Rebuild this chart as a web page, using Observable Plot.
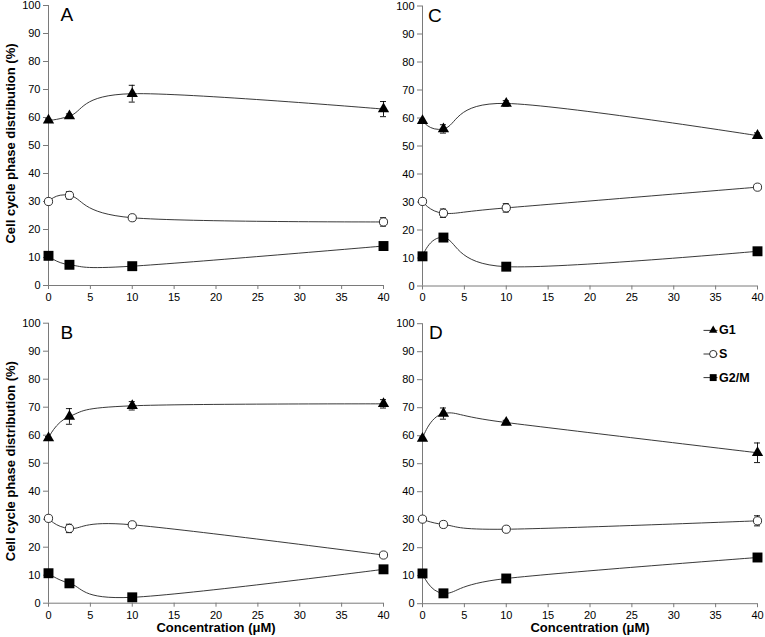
<!DOCTYPE html>
<html><head><meta charset="utf-8">
<script src="https://cdn.jsdelivr.net/npm/d3@7"></script>
<script src="https://cdn.jsdelivr.net/npm/@observablehq/plot@0.6"></script>
<style>
body{margin:0;background:#fff;}
#chart{position:relative;width:765px;height:637px;overflow:hidden;background:#fff;}
#chart > svg{position:absolute;}
</style></head><body><div id="chart"></div>
<script>
// ---- data ----
const concentrations = [0, 2.5, 10, 40];
const phases = ["G1", "S", "G2/M"];
const xTicks = [0, 5, 10, 15, 20, 25, 30, 35, 40];
const yTicks = [0, 10, 20, 30, 40, 50, 60, 70, 80, 90, 100];
const panelLetters = ["A", "B", "C", "D"];
const yTitle = "Cell cycle phase distribution (%)";
const xTitle = "Concentration (μM)";

const A_G1 = [59, 60.5, 68.5, 63];      const A_G1_err = [0.5, 0.8, 3, 2.7];
const A_S = [30, 32.2, 24.2, 22.7];     const A_S_err = [0.3, 1.3, 0.4, 1.5];
const A_G2M = [10.6, 7.4, 6.9, 14.1];   const A_G2M_err = [0.5, 0.5, 0.5, 0.5];

const B_G1 = [59, 66.7, 70.5, 71.2];    const B_G1_err = [0.5, 2.8, 1.5, 1.5];
const B_S = [30.3, 26.7, 28, 17.2];     const B_S_err = [0.5, 1.5, 0.5, 0.5];
const B_G2M = [10.7, 7.1, 2.1, 12.1];   const B_G2M_err = [0.5, 0.5, 0.5, 0.5];

const C_G1 = [59, 56.1, 65.2, 53.7];    const C_G1_err = [0.5, 1.5, 1, 1];
const C_S = [30.2, 26, 27.9, 35.3];     const C_S_err = [0.3, 1.5, 1.5, 0.5];
const C_G2M = [10.6, 17.3, 6.9, 12.4];  const C_G2M_err = [0.5, 0.5, 0.5, 0.5];

const D_G1 = [59, 67.9, 64.7, 53.9];    const D_G1_err = [0.5, 2, 0.8, 3.5];
const D_S = [30.2, 28.3, 26.6, 29.6];   const D_S_err = [0.5, 1, 0.5, 1.8];
const D_G2M = [10.8, 3.7, 9, 16.5];     const D_G2M_err = [0.5, 0.5, 0.5, 0.5];

// ---- build tables ----
function table(series) {
  const rows = [];
  series.forEach(([phase, vals, errs]) => {
    vals.forEach((v, i) => rows.push({phase, x: concentrations[i], y: v, err: errs[i]}));
  });
  return rows;
}
const panels = {
  A: table([["G1", A_G1, A_G1_err], ["S", A_S, A_S_err], ["G2/M", A_G2M, A_G2M_err]]),
  B: table([["G1", B_G1, B_G1_err], ["S", B_S, B_S_err], ["G2/M", B_G2M, B_G2M_err]]),
  C: table([["G1", C_G1, C_G1_err], ["S", C_S, C_S_err], ["G2/M", C_G2M, C_G2M_err]]),
  D: table([["G1", D_G1, D_G1_err], ["S", D_S, D_S_err], ["G2/M", D_G2M, D_G2M_err]])
};

const axisColor = "#7a7a7a";
const markerStyle = {
  "G1": {symbol: "triangle", fill: "black", stroke: "none"},
  "S": {symbol: "circle", fill: "white", stroke: "black", strokeWidth: 0.8},
  "G2/M": {symbol: "square", fill: "black", stroke: "none"}
};
const markerR = {"G1": 4.2, "S": 4.1, "G2/M": 5.6};
const legendR = {"G1": 3.1, "S": 3.6, "G2/M": 3.9};
const lineSymbol = {draw(ctx) { ctx.moveTo(-7, 0); ctx.lineTo(7, 0); }};

function makePanel(letter, layout) {
  const data = panels[letter];
  const capHalf = 0.36;
  const marks = [
    Plot.ruleY([0], {stroke: axisColor}),
    Plot.ruleX([0], {stroke: axisColor}),
    Plot.axisY({ticks: yTicks, tickSize: 5, tickPadding: 3, stroke: axisColor, label: null}),
    Plot.axisX({ticks: xTicks, tickSize: 4, tickPadding: 3.5, stroke: axisColor, label: null}),
    Plot.line(data, {x: "x", y: "y", z: "phase", curve: "cardinal", stroke: "#222", strokeWidth: 0.9}),
    Plot.ruleX(data, {x: "x", y1: d => d.y - d.err, y2: d => d.y + d.err, stroke: "black", strokeWidth: 0.9}),
    Plot.ruleY(data, {y: d => d.y + d.err, x1: d => d.x - capHalf, x2: d => d.x + capHalf, stroke: "black", strokeWidth: 0.9}),
    Plot.ruleY(data, {y: d => d.y - d.err, x1: d => d.x - capHalf, x2: d => d.x + capHalf, stroke: "black", strokeWidth: 0.9})
  ];
  phases.forEach(p => {
    marks.push(Plot.dot(data.filter(d => d.phase === p), {x: "x", y: "y", r: markerR[p], ...markerStyle[p]}));
  });
  marks.push(Plot.text([letter], {frameAnchor: "top-left", dx: layout.letterDx, dy: 2, lineAnchor: "top", textAnchor: "start", fontSize: 19}));
  if (layout.yTitle) {
    marks.push(Plot.text([yTitle], {frameAnchor: "left", textAnchor: "middle", lineAnchor: "middle", rotate: -90, dx: -38, dy: -2, fontWeight: "bold", fontSize: 13}));
  }
  if (layout.xTitle) {
    marks.push(Plot.text([xTitle], {frameAnchor: "bottom", textAnchor: "middle", lineAnchor: "middle", dy: 24.5, fontWeight: "bold", fontSize: 13}));
  }
  if (layout.legend) {
    phases.forEach((p, i) => {
      const dy = 6.7 + 23.6 * i;
      marks.push(Plot.dot([p], {frameAnchor: "top-right", dx: -47, dy, symbol: lineSymbol, r: 3, stroke: "black", strokeWidth: 0.8, fill: "none"}));
      marks.push(Plot.dot([p], {frameAnchor: "top-right", dx: -44.3, dy, r: legendR[p], ...markerStyle[p]}));
      marks.push(Plot.text([p], {frameAnchor: "top-right", dx: -38.5, dy, textAnchor: "start", lineAnchor: "middle", fontWeight: "bold", fontSize: 12.5}));
    });
  }
  const svg = Plot.plot({
    width: layout.width, height: layout.height,
    marginLeft: 48, marginRight: layout.width - 48 - 335,
    marginTop: layout.mt, marginBottom: layout.height - layout.mt - 280,
    x: {domain: [0, 40]},
    y: {domain: [0, 100]},
    style: {background: "transparent", overflow: "visible", fontFamily: "Arial, 'Liberation Sans', sans-serif", fontSize: "11px", color: "black"},
    marks
  });
  svg.style.left = layout.left + "px";
  svg.style.top = layout.top + "px";
  svg.style.maxWidth = "none";
  document.getElementById("chart").appendChild(svg);
}

makePanel("A", {left: 0, top: 0, width: 392, height: 305, mt: 5, letterDx: 12, yTitle: true});
makePanel("C", {left: 374, top: 0, width: 391, height: 305, mt: 5.5, letterDx: 5.5});
makePanel("B", {left: 0, top: 305, width: 392, height: 332, mt: 17.7, letterDx: 12, yTitle: true, xTitle: true});
makePanel("D", {left: 374, top: 305, width: 391, height: 332, mt: 18.2, letterDx: 6.5, xTitle: true, legend: true});
</script></body></html>
